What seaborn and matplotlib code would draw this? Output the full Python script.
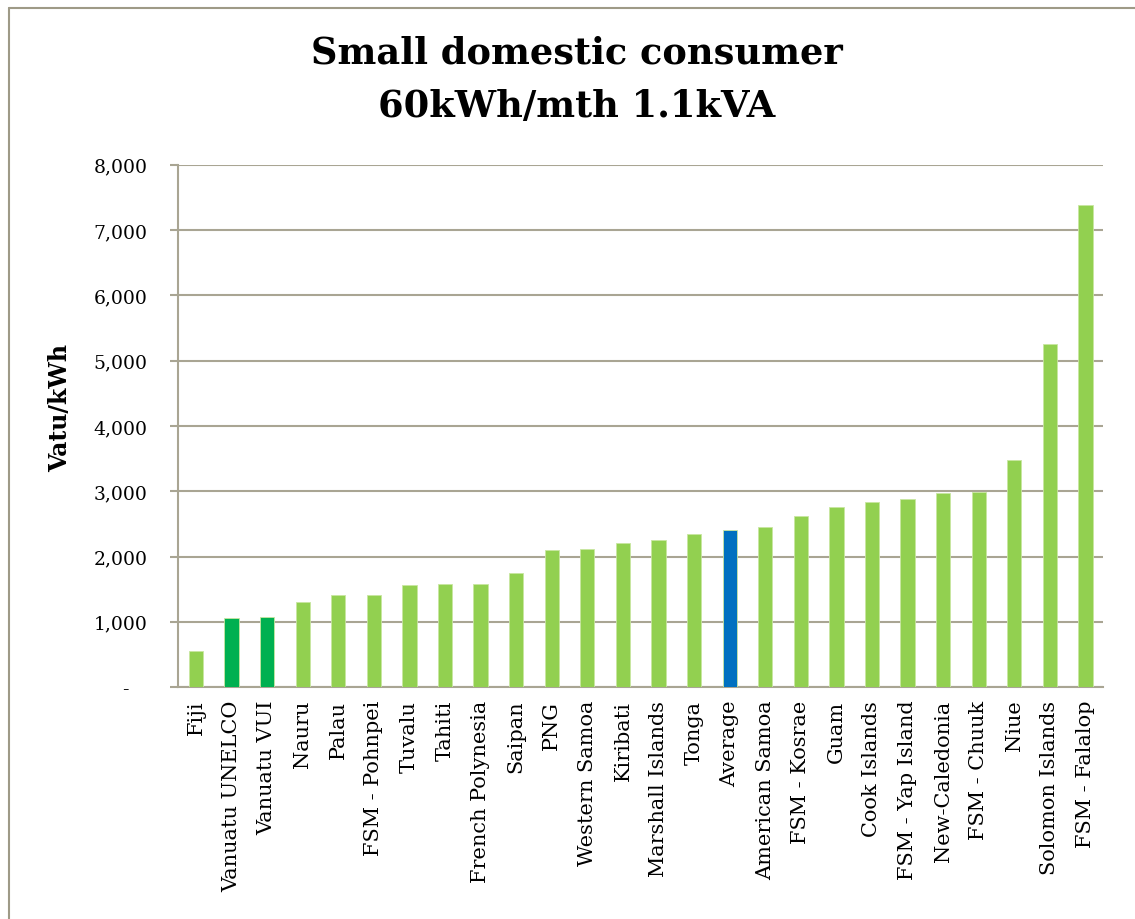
import matplotlib
matplotlib.use('Agg')
import matplotlib.pyplot as plt
from matplotlib.lines import Line2D
from matplotlib.ticker import FuncFormatter
import numpy as np
import pandas as pd
import seaborn as sns

# values (Vatu/kWh)
countries = ['Fiji', 'Vanuatu UNELCO', 'Vanuatu VUI', 'Nauru', 'Palau', 'FSM - Pohnpei',
             'Tuvalu', 'Tahiti', 'French Polynesia', 'Saipan', 'PNG', 'Western Samoa',
             'Kiribati', 'Marshall Islands', 'Tonga', 'Average', 'American Samoa',
             'FSM - Kosrae', 'Guam', 'Cook Islands', 'FSM - Yap Island', 'New-Caledonia',
             'FSM - Chuuk', 'Niue', 'Solomon Islands', 'FSM - Falalop']
vatu_per_kwh = [547, 1057, 1072, 1306, 1404, 1409, 1562, 1572, 1582, 1750, 2098, 2108,
                2200, 2247, 2348, 2405, 2451, 2615, 2753, 2830, 2880, 2977, 2983, 3483,
                5254, 7378]
highlight = {'Vanuatu UNELCO': '#00B050', 'Vanuatu VUI': '#00B050', 'Average': '#0070C0'}
y_ticks = [0, 1000, 2000, 3000, 4000, 5000, 6000, 7000, 8000]

base_green = '#92D050'
grid_col = '#A9A593'

df = pd.DataFrame({'country': countries, 'value': vatu_per_kwh})
palette = {c: highlight.get(c, base_green) for c in countries}

sns.set_style('white')
plt.rcParams['font.family'] = ['DejaVu Serif']
plt.rcParams['text.color'] = 'black'
plt.rcParams['xtick.color'] = 'black'
plt.rcParams['ytick.color'] = 'black'

fig = plt.figure(figsize=(11.35, 9.2), dpi=100)
ax = fig.add_axes([0.157, 0.252, 0.815, 0.568])

sns.barplot(data=df, x='country', y='value', hue='country', palette=palette,
            order=countries, width=0.4, saturation=1, legend=False, ax=ax,
            edgecolor='#C8E6A0', linewidth=0.6, zorder=3)

ax.set_xlim(-0.5, len(countries) - 0.5)
ax.set_ylim(0, 8000)
ax.set_yticks(y_ticks)
# accounting style: zero shown as a dash, padded like Excel does
ax.yaxis.set_major_formatter(FuncFormatter(lambda v, p: '-   ' if v == 0 else f'{v:,.0f}'))
ax.grid(axis='y', color=grid_col, lw=1.5, zorder=0)
ax.set_axisbelow(True)

for s in ['top', 'right']:
    ax.spines[s].set_visible(False)
for s in ['left', 'bottom']:
    ax.spines[s].set_color(grid_col)
    ax.spines[s].set_linewidth(1.5)

ax.set_xticks(range(len(countries)))
ax.set_xticklabels(countries, rotation=90, fontsize=15)
ax.set_xticks(np.arange(-0.5, len(countries)), minor=True)
ax.tick_params(axis='x', which='major', length=0, pad=9, labelcolor='black')
ax.tick_params(axis='x', which='minor', length=6, width=1.5, color=grid_col, direction='out')
ax.tick_params(axis='y', length=6, width=1.5, color=grid_col, labelsize=13.5, pad=16,
               left=True, labelcolor='black')
ax.set_xlabel('')
ax.set_ylabel('')

fig.text(0.053, 0.557, 'Vatu/kWh', rotation=90, ha='center', va='center',
         fontsize=17, fontweight='bold')
fig.text(0.508, 0.942, 'Small domestic consumer', ha='center', va='center',
         fontsize=26.5, fontweight='bold')
fig.text(0.508, 0.884, '60kWh/mth 1.1kVA', ha='center', va='center',
         fontsize=26.5, fontweight='bold')

# chart area border (left and top edges visible in the reference)
bx, by = 9 / 1135, 1 - 9 / 920
fig.add_artist(Line2D([bx, bx], [0, by], color='#9E9A87', lw=1.5))
fig.add_artist(Line2D([bx, 1], [by, by], color='#9E9A87', lw=1.5))

fig.savefig('out.png', dpi=100)
